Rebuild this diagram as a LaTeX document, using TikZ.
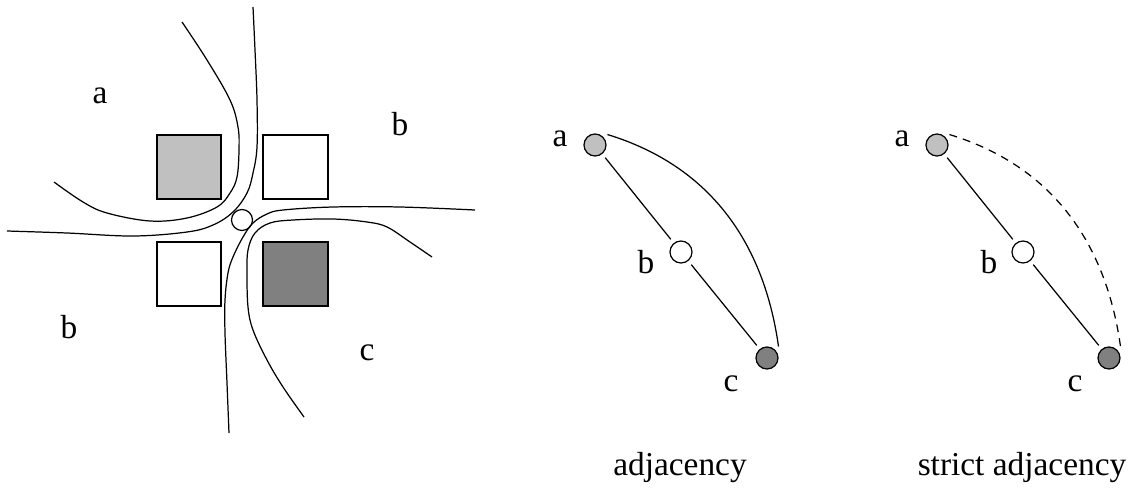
\documentclass[tikz,border=0pt]{standalone}
\usepackage{fontspec}
\setmainfont{Liberation Serif}
\usetikzlibrary{positioning}
\tikzset{
  lbl/.style={anchor=base, inner sep=0pt, font=\fontsize{19}{22}\selectfont},
  vtx/.style={draw, circle, line width=0.7pt, minimum size=0.44cm, inner sep=0pt, outer sep=3pt},
  cell/.style={draw, line width=0.7pt},
  bound/.style={line width=0.7pt, smooth, tension=0.6},
  edge/.style={line width=0.7pt}}
\begin{document}
\begin{tikzpicture}[x=0.02cm, y=-0.02cm]
  \useasboundingbox (0,0) rectangle (1135,487);
  % left: four cells round a junction
  \draw[cell, fill={rgb,255:red,192;green,192;blue,192}] (157,135) rectangle (221,199);
  \draw[cell, fill=white] (263,135) rectangle (328,199);
  \draw[cell, fill=white] (157,242) rectangle (221,306);
  \draw[cell, fill={rgb,255:red,128;green,128;blue,128}] (263,242) rectangle (328,306);
  \node[draw, circle, line width=0.7pt, minimum size=0.42cm, inner sep=0pt] (hub) at (242,220) {};
  \draw[bound] plot coordinates {(182,22) (207,60) (230,100) (238,127) (239,150) (237,177) (230,193)
    (217,207) (187,218) (150,221) (107,213) (83,202) (54,182)};
  \draw[bound] plot coordinates {(253,7) (255,50) (257,100) (257,147) (253,173) (247,193) (233,212)
    (213,225) (187,232) (133,236) (67,233) (7,231)};
  \draw[bound] plot coordinates {(475,210) (400,207) (333,207) (283,210) (267,214) (253,223) (243,237)
    (233,257) (228,273) (225,300) (225,333) (227,383) (229,433)};
  \draw[bound] plot coordinates {(432,257) (410,242) (387,227) (367,222) (333,219) (293,220) (270,223)
    (255,233) (248,250) (247,273) (248,307) (253,330) (267,360) (283,387) (304,417)};
  \node[lbl] (ra) at (100,103) {a};
  \node[lbl] (rb1) at (400,135) {b};
  \node[lbl] (rb2) at (69,338) {b};
  \node[lbl] (rc) at (367,360) {c};
  % middle: adjacency
  \node[vtx, fill={rgb,255:red,192;green,192;blue,192}] (a1) at (595,145) {};
  \node[vtx, fill=white] (b1) at (681,252) {};
  \node[vtx, fill={rgb,255:red,128;green,128;blue,128}] (c1) at (767,358) {};
  \node[lbl] (la1) at (560,146) {a};
  \node[lbl] (lb1) at (646,273) {b};
  \node[lbl] (lc1) at (731,391) {c};
  \draw[edge] (a1) -- (b1); \draw[edge] (b1) -- (c1);
  \draw[edge] (a1.40) to[out=-17, in=98] (c1.45);
  \node[lbl] (cap1) at (680,475) {adjacency};
  % right: strict adjacency
  \node[vtx, fill={rgb,255:red,192;green,192;blue,192}] (a2) at (937,145) {};
  \node[vtx, fill=white] (b2) at (1023,252) {};
  \node[vtx, fill={rgb,255:red,128;green,128;blue,128}] (c2) at (1109,358) {};
  \node[lbl] (la2) at (902,146) {a};
  \node[lbl] (lb2) at (989,273) {b};
  \node[lbl] (lc2) at (1075,391) {c};
  \draw[edge] (a2) -- (b2); \draw[edge] (b2) -- (c2);
  \draw[edge, dash pattern=on 4.5pt off 3.5pt] (a2.40) to[out=-17, in=98] (c2.45);
  \node[lbl] (cap2) at (1022,475) {strict adjacency};
\end{tikzpicture}
\end{document}
